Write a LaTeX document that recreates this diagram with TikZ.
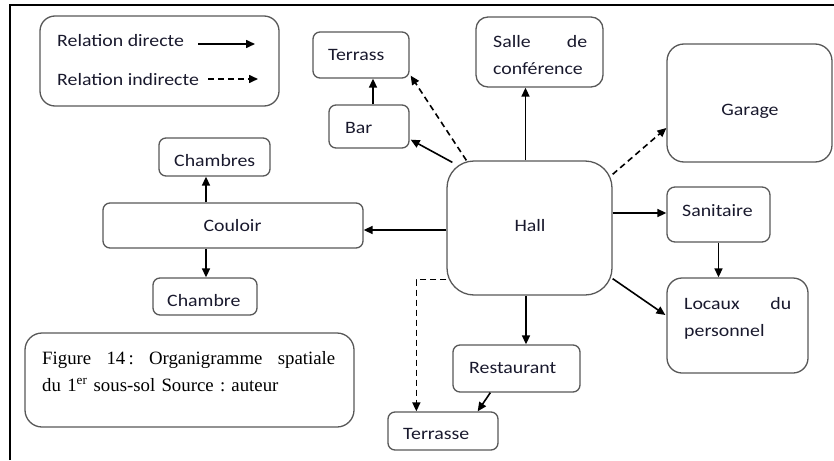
\documentclass[tikz,border=0pt]{standalone}
\usepackage{fontspec}
\setmainfont{Carlito}[FakeStretch=1.14]
\newfontfamily\capfont{Liberation Serif}
\usetikzlibrary{arrows.meta,calc}
\definecolor{boxgray}{RGB}{88,88,88}
\definecolor{txtc}{RGB}{25,25,45}
\frenchspacing
\begin{document}
\begin{tikzpicture}[x=1pt,y=-1pt,
  box/.style={draw=boxgray,line width=1.3pt,inner sep=0pt,rounded corners=7pt},
  lbl/.style={inner sep=0pt,anchor=base west,text=txtc,font=\fontsize{17.4}{27}\selectfont},
  para/.style={inner sep=0pt,anchor=north west,text=txtc,align=left,font=\fontsize{17.4}{27}\selectfont},
  arr/.style={draw=black,line width=1.6pt,-{Triangle[length=9pt,width=8pt]}},
  darr/.style={arr,dash pattern=on 6pt off 4pt}]
\useasboundingbox (0,0) rectangle (834,460);
% frame
\draw[line width=2pt] (10,460) -- (10,5.5) -- (834,5.5);
% legend
\node[box,rounded corners=15pt,minimum width=239pt,minimum height=90pt] (legend) at (159.5,61) {};
\node[lbl] (l1) at (57,47) {Relation directe};
\node[lbl] (l2) at (57,85) {Relation indirecte};
\coordinate (la1) at (198,44); \coordinate (lb1) at (255,44);
\coordinate (la2) at (208,79); \coordinate (lb2) at (258,79);
\draw[arr] (la1) -- (lb1);
\draw[darr] (la2) -- (lb2);
% boxes
\node[box,minimum width=96pt,minimum height=46pt] (terrass) at (361,55) {};
\node[box,minimum width=80pt,minimum height=43pt] (bar) at (369,126.5) {};
\node[box,rounded corners=12pt,minimum width=127pt,minimum height=70pt] (salle) at (539.5,52) {};
\node[box,rounded corners=17pt,minimum width=165pt,minimum height=118pt] (garage) at (749.5,103) {};
\node[box,rounded corners=27pt,minimum width=165pt,minimum height=134pt] (hall) at (529.5,228) {};
\node[box,rounded corners=8pt,minimum width=103pt,minimum height=55pt] (sanit) at (718.5,214.5) {};
\node[box,rounded corners=15pt,minimum width=141pt,minimum height=95pt] (locaux) at (737.5,325.5) {};
\node[box,minimum width=127pt,minimum height=47pt] (rest) at (516.5,368.5) {};
\node[box,minimum width=110pt,minimum height=38pt] (terrasse) at (443,431) {};
\node[box,minimum width=260pt,minimum height=45pt] (couloir) at (233,225.5) {};
\node[box,minimum width=111pt,minimum height=38pt] (chambres) at (214.5,157) {};
\node[box,minimum width=104pt,minimum height=37pt] (chambre) at (205,296.5) {};
\node[box,rounded corners=17pt,minimum width=329pt,minimum height=94pt] (caption) at (189.5,380) {};
% texts
\node[lbl] (terrasst) at (328,60) {Terrass};
\node[lbl] (bart) at (345,133) {Bar};
\node[para,text width=94pt] (sallet) at (493,34) {\rule{0pt}{13pt}Salle\hfill de\\conférence};
\node[lbl,anchor=base] (garaget) at (750,115) {Garage};
\node[lbl,anchor=base] (hallt) at (530,231) {Hall};
\node[lbl] (sanitt) at (682,216) {Sanitaire};
\node[para,text width=107pt] (locauxt) at (684,296) {\rule{0pt}{13pt}Locaux\hfill du\\personnel};
\node[lbl] (restt) at (469,373) {Restaurant};
\node[lbl] (terrasset) at (403,439) {Terrasse};
\node[lbl,anchor=base] (couloirt) at (232.5,231) {Couloir};
\node[lbl] (chambrest) at (174,166) {Chambres};
\node[lbl] (chambret) at (167,306) {Chambre};
\node[inner sep=0pt,anchor=north west,align=left,text width=293pt,text=black,
  font=\capfont\fontsize{18.8}{27}\selectfont\frenchspacing] (capt) at (42,349)
  {\rule{0pt}{15pt}Figure\hfill 14\,:\hfill Organigramme\hfill spatiale\\du 1\textsuperscript{er} sous-sol Source : auteur};
% connectors
\draw[arr] ($(hall.north west)+(6,2)$) -- ($(bar.south east)+(1,-9)$);
\draw[darr] ($(hall.north west)+(20,0)$) -- ($(terrass.south east)+(1,-3)$);
\draw[arr] ($(bar.north)+(4,0)$) coordinate (b1) -- (b1 |- terrass.south);
\draw[arr] ($(hall.north)+(-4,0)$) coordinate (h1) -- (h1 |- salle.south);
\draw[darr] ($(hall.north east)+(0,14)$) -- ($(garage.west)+(0,25)$);
\draw[arr] ($(sanit.west)+(0,-1.5)$) coordinate (s1) (hall.east |- s1) -- (s1);
\draw[arr] (sanit.south) -- (sanit.south |- locaux.north);
\draw[arr] ($(hall.south east)+(0,-17)$) -- ($(locaux.west)+(-1,-10.5)$);
\draw[arr] ($(hall.south)+(-3.5,0)$) coordinate (h2) -- (h2 |- rest.north);
\draw[arr] ($(rest.south west)+(38,0)$) -- ($(terrasse.north east)+(-21,0)$);
\draw[darr] ($(hall.south west)+(0,-16)$) -| ($(terrasse.north west)+(29,0)$);
\draw[arr] ($(hall.west)+(0,2)$) coordinate (h3) -- (h3 -| couloir.east);
\draw[arr] ($(couloir.north)+(-27,0)$) coordinate (c1) -- (c1 |- chambres.south);
\draw[arr] ($(couloir.south)+(-27,0)$) coordinate (c2) -- (c2 |- chambre.north);
\end{tikzpicture}
\end{document}
